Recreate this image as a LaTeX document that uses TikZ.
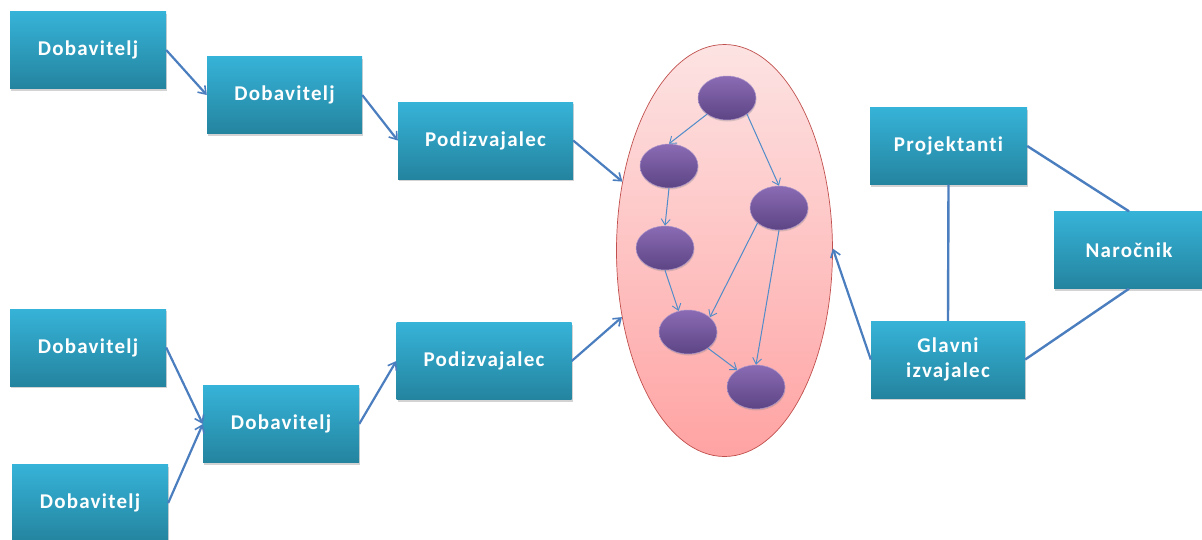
\documentclass[tikz,border=0pt]{standalone}
\usepackage{fontspec}
\setmainfont{Carlito}[LetterSpace=6,Ligatures=NoCommon,RawFeature=-liga]
\usetikzlibrary{shapes.geometric,shadows,arrows.meta}
\definecolor{boxtop}{HTML}{36B3D8}
\definecolor{boxbot}{HTML}{24849F}
\definecolor{arrowblue}{HTML}{4A7EBE}
\definecolor{innerblue}{HTML}{4F8CC9}
\definecolor{ovaltop}{HTML}{FDE3E3}
\definecolor{ovalbot}{HTML}{FFA3A3}
\definecolor{ovalline}{HTML}{C0504D}
\definecolor{purtop}{HTML}{8A6BB4}
\definecolor{purbot}{HTML}{5D4585}
\begin{document}
\begin{tikzpicture}[x=1pt,y=-1pt,
  box/.style={rectangle, top color=boxtop, bottom color=boxbot, draw=none,
    minimum width=#1, minimum height=77pt, inner sep=0pt, text=white,
    font=\fontsize{21}{25}\selectfont\bfseries, align=center,
    drop shadow={shadow xshift=1pt, shadow yshift=-2pt, opacity=0.35, fill=gray}},
  box/.default=156pt,
  oval/.style={ellipse, top color=ovaltop, bottom color=ovalbot, draw=ovalline,
    line width=0.7pt, minimum width=216pt, minimum height=412pt, inner sep=0pt},
  dot/.style={ellipse, top color=purtop, bottom color=purbot, draw=purtop!70!white,
    line width=0.5pt, minimum width=58pt, minimum height=44pt, inner sep=0pt,
    drop shadow={shadow xshift=0.5pt, shadow yshift=-1.5pt, opacity=0.3, fill=gray}},
  conn/.style={draw=arrowblue, line width=2.2pt, -{Straight Barb[length=7pt,width=10pt,line width=1.6pt]}},
  link/.style={draw=arrowblue, line width=2.4pt},
  inner/.style={draw=innerblue, line width=1pt, -{Straight Barb[length=6pt,width=9pt,line width=0.9pt]}}
]
\useasboundingbox (0,0) rectangle (1202,539);

\node[box] (d1) at (88,50) {Dobavitelj};
\node[box=155pt] (d2) at (284.5,95) {Dobavitelj};
\node[box=175pt] (p1) at (485.5,140.5) {Podizvajalec};
\node[box] (d3) at (88,347.5) {Dobavitelj};
\node[box] (d4) at (281,424) {Dobavitelj};
\node[box] (d5) at (90,503) {Dobavitelj};
\node[box=175pt] (p2) at (484,361) {Podizvajalec};
\node[box=157pt] (pr) at (948.5,146) {Projektanti};
\node[box=154pt] (gi) at (948,359.5) {Glavni\\izvajalec};
\node[box=150pt] (na) at (1129,250) {Naročnik};

\node[oval] (E) at (724.5,250.5) {};
\node[dot] (c1) at (727,98) {};
\node[dot] (c2) at (669,166) {};
\node[dot] (c3) at (779,208) {};
\node[dot] (c4) at (665,248) {};
\node[dot] (c5) at (688,332) {};
\node[dot] (c6) at (756,387) {};

\draw[inner] (c1.219) -- (c2.north);
\draw[inner] (c1.321) -- (c3.north);
\draw[inner] (c2.south) -- (c4.north);
\draw[inner] (c4.south) -- (c5.114);
\draw[inner] (c3.215) -- (c5.34);
\draw[inner] (c3.south) -- (c6.north);
\draw[inner] (c5.321) -- (c6.138);

\draw[conn] (d1.east) -- (d2.west);
\draw[conn] (d2.east) -- (p1.west);
\draw[conn] (p1.east) -- (E.146);
\draw[conn] (d3.east) -- (d4.west);
\draw[conn] (d5.east) -- (d4.west);
\draw[conn] (d4.east) -- (p2.west);
\draw[conn] (p2.east) -- (E.213);
\draw[conn] (gi.west) -- (E.1);
\draw[link] (pr.south) -- (gi.north);
\draw[link] (pr.east) -- (na.north);
\draw[link] (gi.east) -- (na.south);
\end{tikzpicture}
\end{document}
